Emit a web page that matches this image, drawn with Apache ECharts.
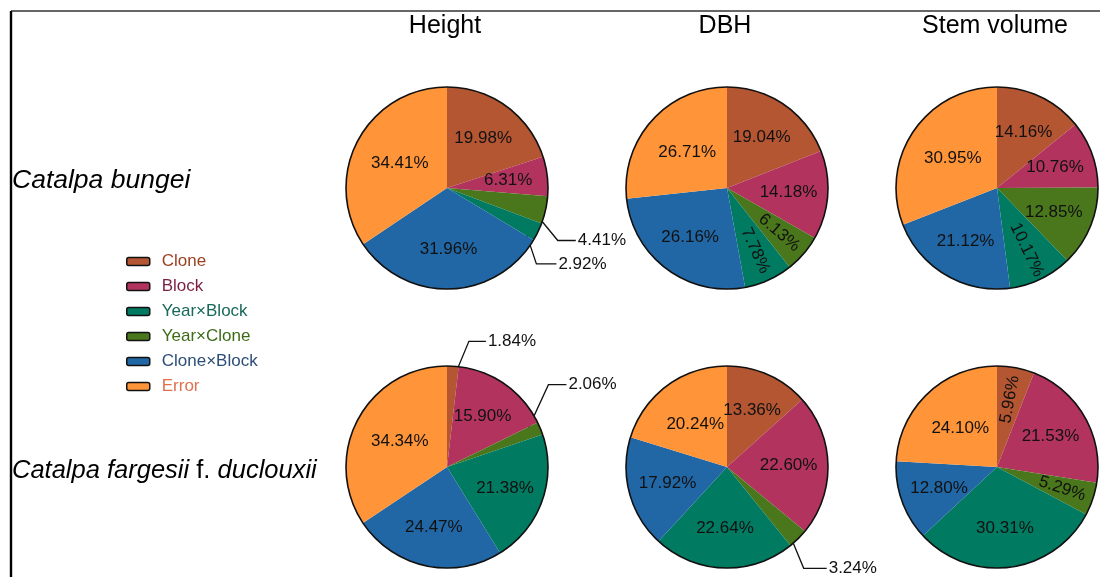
<!DOCTYPE html>
<html>
<head>
<meta charset="utf-8">
<script src="https://cdn.jsdelivr.net/npm/echarts@6/dist/echarts.min.js"></script>
<style>
  html, body { margin: 0; padding: 0; background: #fff; }
  #chart { width: 1100px; height: 577px; }
</style>
</head>
<body>
<div id="chart"></div>
<script>
// Variance components, legend order
const components = ['Clone', 'Block', 'Year×Block', 'Year×Clone', 'Clone×Block', 'Error'];
// Clockwise slice order, starting at 12 o'clock
const sliceOrder = ['Clone', 'Block', 'Year×Clone', 'Year×Block', 'Clone×Block', 'Error'];
const traits = ['Height', 'DBH', 'Stem volume'];

// Percentage of variance (%), in sliceOrder
const bungeiHeight    = [19.98, 6.31, 4.41, 2.92, 31.96, 34.41];
const bungeiDBH       = [19.04, 14.18, 6.13, 7.78, 26.16, 26.71];
const bungeiVolume    = [14.16, 10.76, 12.85, 10.17, 21.12, 30.95];
const duclouxiiHeight = [1.84, 15.90, 2.06, 21.38, 24.47, 34.34];
const duclouxiiDBH    = [13.36, 22.60, 3.24, 22.64, 17.92, 20.24];
const duclouxiiVolume = [5.96, 21.53, 5.29, 30.31, 12.80, 24.10];

const table = [
  [bungeiHeight, bungeiDBH, bungeiVolume],
  [duclouxiiHeight, duclouxiiDBH, duclouxiiVolume]
];

// ---- layout & style ----
const FONT = "'Liberation Sans', Arial, sans-serif";
const colX = [447, 727, 997];
const rowY = [188, 467];
const R = 101;
const sliceColors = {
  'Clone': '#B45632', 'Block': '#B2345E', 'Year×Block': '#007A60',
  'Year×Clone': '#4A771C', 'Clone×Block': '#2167A5', 'Error': '#FF9438'
};
const legendTextColors = {
  'Clone': '#9B3F1F', 'Block': '#7A1F42', 'Year×Block': '#17695A',
  'Year×Clone': '#3D6B18', 'Clone×Block': '#2C4E78', 'Error': '#E07050'
};
// labels written along the radius
const radialLabels = {
  '0-1': ['Year×Clone', 'Year×Block'],
  '0-2': ['Year×Block'],
  '1-2': ['Clone', 'Year×Clone']
};
// labels pulled out with a leader: [bend dx, bend dy, horizontal run]
const leaders = {
  '0-0': { 'Year×Clone': [28, 34, 18], 'Year×Block': [13, 39, 20] },
  '1-0': { 'Clone': [17, -41, 17], 'Year×Clone': [23, -50, 18] },
  '1-1': { 'Year×Clone': [17, 41, 23] }
};
const leaderStart = 0.84;

function midDir(values, i) {
  const total = values.reduce((a, b) => a + b, 0);
  let cum = 0;
  for (let k = 0; k < i; k++) cum += values[k];
  const ang = (cum + values[i] / 2) / total * Math.PI * 2;
  return [Math.sin(ang), -Math.cos(ang)];
}

function labelReach(name, rotated) {
  if (rotated) return 0.68;
  if (name === 'Error') return 0.53;
  return 0.61;
}

const series = [];
table.forEach((row, r) => {
  row.forEach((values, c) => {
    const key = r + '-' + c;
    const cx = colX[c], cy = rowY[r];
    const rad = radialLabels[key] || [];
    const lead = leaders[key] || {};
    series.push({
      type: 'pie',
      name: traits[c],
      center: [cx, cy],
      radius: R,
      startAngle: 90,
      clockwise: true,
      avoidLabelOverlap: false,
      emphasis: { disabled: true },
      silent: true,
      itemStyle: { borderWidth: 0 },
      label: {
        show: true,
        position: 'inside',
        fontSize: 17,
        fontFamily: FONT,
        color: '#111',
        formatter: p => p.value.toFixed(2) + '%'
      },
      labelLine: { show: false, lineStyle: { color: '#111', width: 1.3 } },
      data: sliceOrder.map((name, i) => {
        const item = { name, value: values[i], itemStyle: { color: sliceColors[name] } };
        if (lead[name]) {
          item.label = { position: 'outside' };
          item.labelLine = { show: true, lineStyle: { color: '#111', width: 1.3 } };
        } else if (rad.indexOf(name) >= 0) {
          item.label = { rotate: 'radial' };
        }
        return item;
      }),
      labelLayout: function (p) {
        const name = sliceOrder[p.dataIndex];
        const [ux, uy] = midDir(values, p.dataIndex);
        const l = lead[name];
        if (l) {
          const sx = cx + ux * R * leaderStart, sy = cy + uy * R * leaderStart;
          const bx = sx + l[0], by = sy + l[1];
          const ex = bx + l[2];
          return {
            x: ex + 2, y: by, align: 'left', verticalAlign: 'middle',
            labelLinePoints: [[sx, sy], [bx, by], [ex, by]]
          };
        }
        const k = labelReach(name, rad.indexOf(name) >= 0);
        return { x: cx + ux * R * k, y: cy + uy * R * k, align: 'center', verticalAlign: 'middle' };
      }
    });
    // circular outline around each pie
    series.push({
      type: 'pie',
      center: [cx, cy],
      radius: R,
      silent: true,
      z: 3,
      emphasis: { disabled: true },
      label: { show: false },
      labelLine: { show: false },
      itemStyle: { color: 'rgba(0,0,0,0)', borderColor: '#111', borderWidth: 1.6 },
      data: [{ name: 'outline', value: 1 }]
    });
  });
});

const graphics = [
  { type: 'line', shape: { x1: 11, y1: 11, x2: 1100, y2: 11 }, style: { stroke: '#333', lineWidth: 1.6 } },
  { type: 'line', shape: { x1: 11, y1: 11, x2: 11, y2: 577 }, style: { stroke: '#000', lineWidth: 2.4 } }
];
traits.forEach((t, c) => {
  graphics.push({
    type: 'text', x: colX[c] - 2, y: 26,
    style: { text: t, font: '25px ' + FONT, fill: '#000', align: 'center', verticalAlign: 'middle' }
  });
});
graphics.push({
  type: 'text', x: 12, y: 181,
  style: {
    text: '{i|Catalpa bungei}', align: 'left', verticalAlign: 'middle',
    rich: { i: { fontSize: 26.5, fontStyle: 'italic', fontFamily: FONT, fill: '#000', color: '#000' } }
  }
});
graphics.push({
  type: 'text', x: 12, y: 471,
  style: {
    text: '{i|Catalpa fargesii} {n|f.} {i|duclouxii}', align: 'left', verticalAlign: 'middle',
    font: '25.5px ' + FONT,
    rich: {
      i: { fontSize: 25.5, fontStyle: 'italic', fontFamily: FONT, fill: '#000', color: '#000' },
      n: { fontSize: 25.5, fontFamily: FONT, fill: '#000', color: '#000' }
    }
  }
});

const chart = echarts.init(document.getElementById('chart'), null, { renderer: 'canvas' });
chart.setOption({
  animation: false,
  backgroundColor: '#fff',
  legend: {
    orient: 'vertical',
    left: 126,
    top: 253,
    padding: 0,
    itemWidth: 23,
    itemHeight: 8,
    itemGap: 8,
    icon: 'roundRect',
    selectedMode: false,
    itemStyle: { borderColor: '#111', borderWidth: 1.5 },
    textStyle: { fontSize: 17, lineHeight: 17, fontFamily: FONT, padding: [0, 0, 0, 7] },
    data: components.map(n => ({ name: n, textStyle: { color: legendTextColors[n] } }))
  },
  graphic: graphics,
  series: series
});
</script>
</body>
</html>
